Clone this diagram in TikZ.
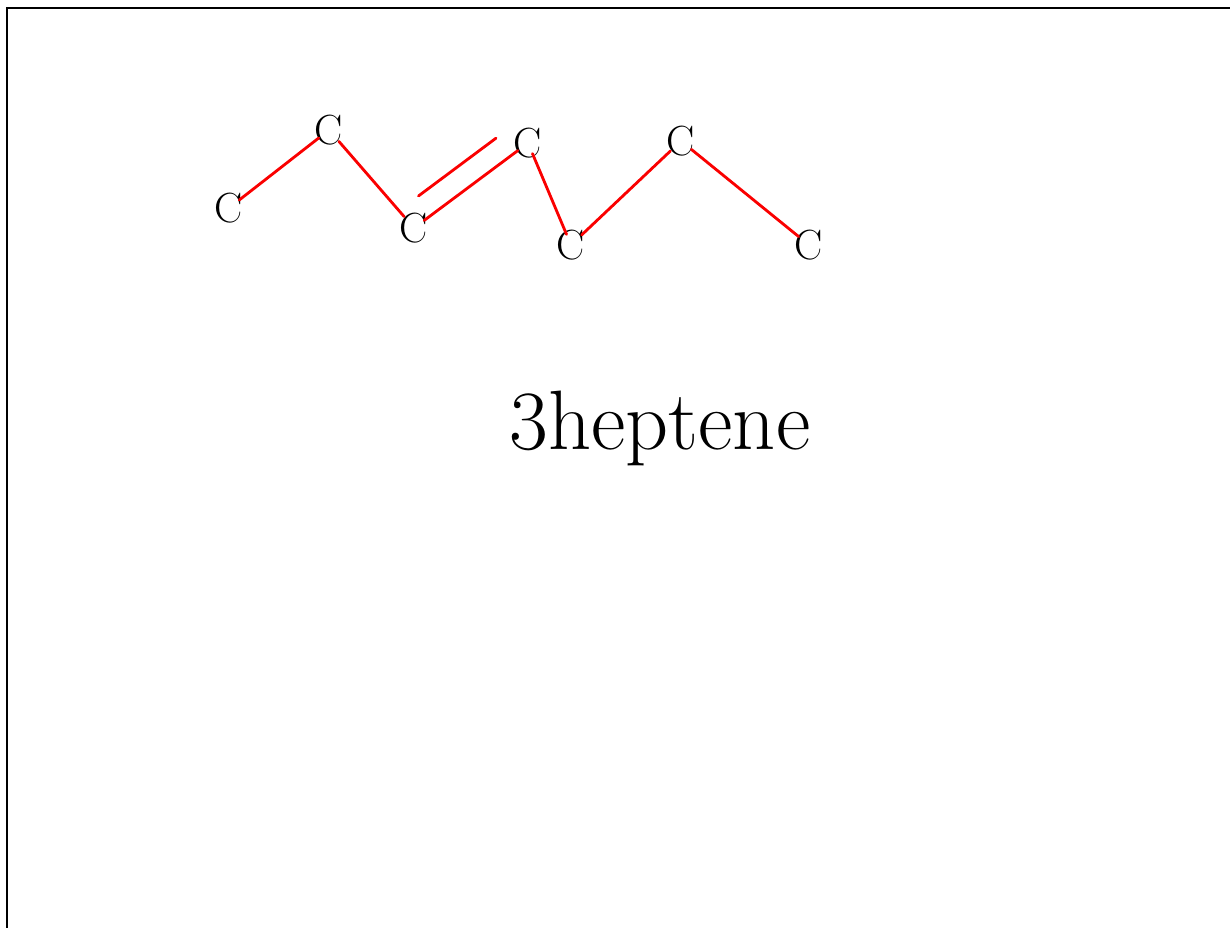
\documentclass[tikz,border=0pt]{standalone}
\usepackage{tikz}
\usetikzlibrary{calc}
\definecolor{bondRed}{RGB}{250,0,0}

\begin{document}
\begin{tikzpicture}[
  x=0.02cm, y=-0.02cm,
  atom/.style={font=\fontsize{24}{24}\selectfont, inner sep=0pt},
  bond/.style={draw=bondRed, line width=1.6pt, line cap=round,
    shorten <=-3pt, shorten >=-3pt},
  lbl/.style={font=\fontsize{48}{48}\selectfont, inner sep=0pt},
]
  \useasboundingbox (0,0) rectangle (1230,928);
  \draw[line width=1.4pt] (7,960) -- (7,8) -- (1260,8);

  % carbon chain
  \node[atom] (c1) at (229,208) {C};
  \node[atom] (c2) at (329,130) {C};
  \node[atom] (c3) at (414,228) {C};
  \node[atom] (c4) at (528,143) {C};
  \node[atom] (c5) at (571,245) {C};
  \node[atom] (c6) at (681,141) {C};
  \node[atom] (c7) at (809,245) {C};

  \draw[bond] (c1) -- (c2);
  \draw[bond] (c2) -- (c3);
  \draw[bond] (c3) -- (c4);
  \draw[bond] (c4) -- (c5);
  \draw[bond] (c5) -- (c6);
  \draw[bond] (c6) -- (c7);
  % second line of the double bond
  \draw[bond, shorten <=0pt, shorten >=0pt]
    ($(c3)!0.16!(c4)!0.46cm!90:(c4)$) -- ($(c3)!0.84!(c4)!0.46cm!90:(c4)$);

  \node[lbl] (name) at (660,428) {3heptene};
\end{tikzpicture}
\end{document}
